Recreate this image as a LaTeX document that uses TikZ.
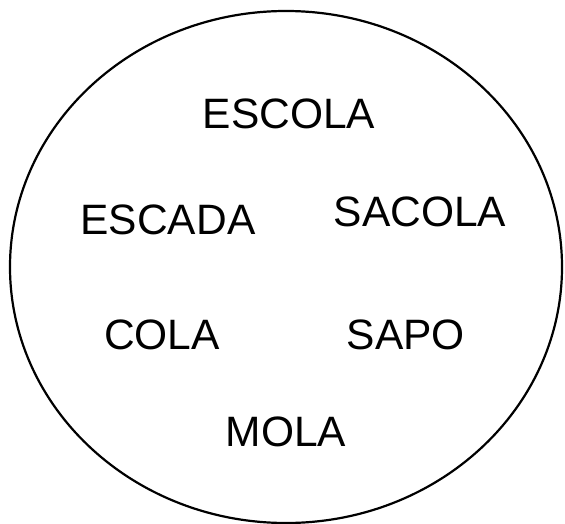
\documentclass[tikz,border=0pt]{standalone}
\usepackage{fontspec}
\setmainfont{Liberation Sans}
\begin{document}
\begin{tikzpicture}[x=1pt, y=-1pt, line width=2.2pt, font=\fontsize{42.5}{42.5}\selectfont]
	\useasboundingbox (0,0) rectangle (565,524);
	\draw (286,267) ellipse [x radius=276, y radius=256];
	\node (escola) at (289,114) {ESCOLA};
	\node (escada) at (168,220) {ESCADA};
	\node (sacola) at (420,212) {SACOLA};
	\node (cola) at (162,335) {COLA};
	\node (sapo) at (406,335) {SAPO};
	\node (mola) at (286,432) {MOLA};
\end{tikzpicture}
\end{document}
